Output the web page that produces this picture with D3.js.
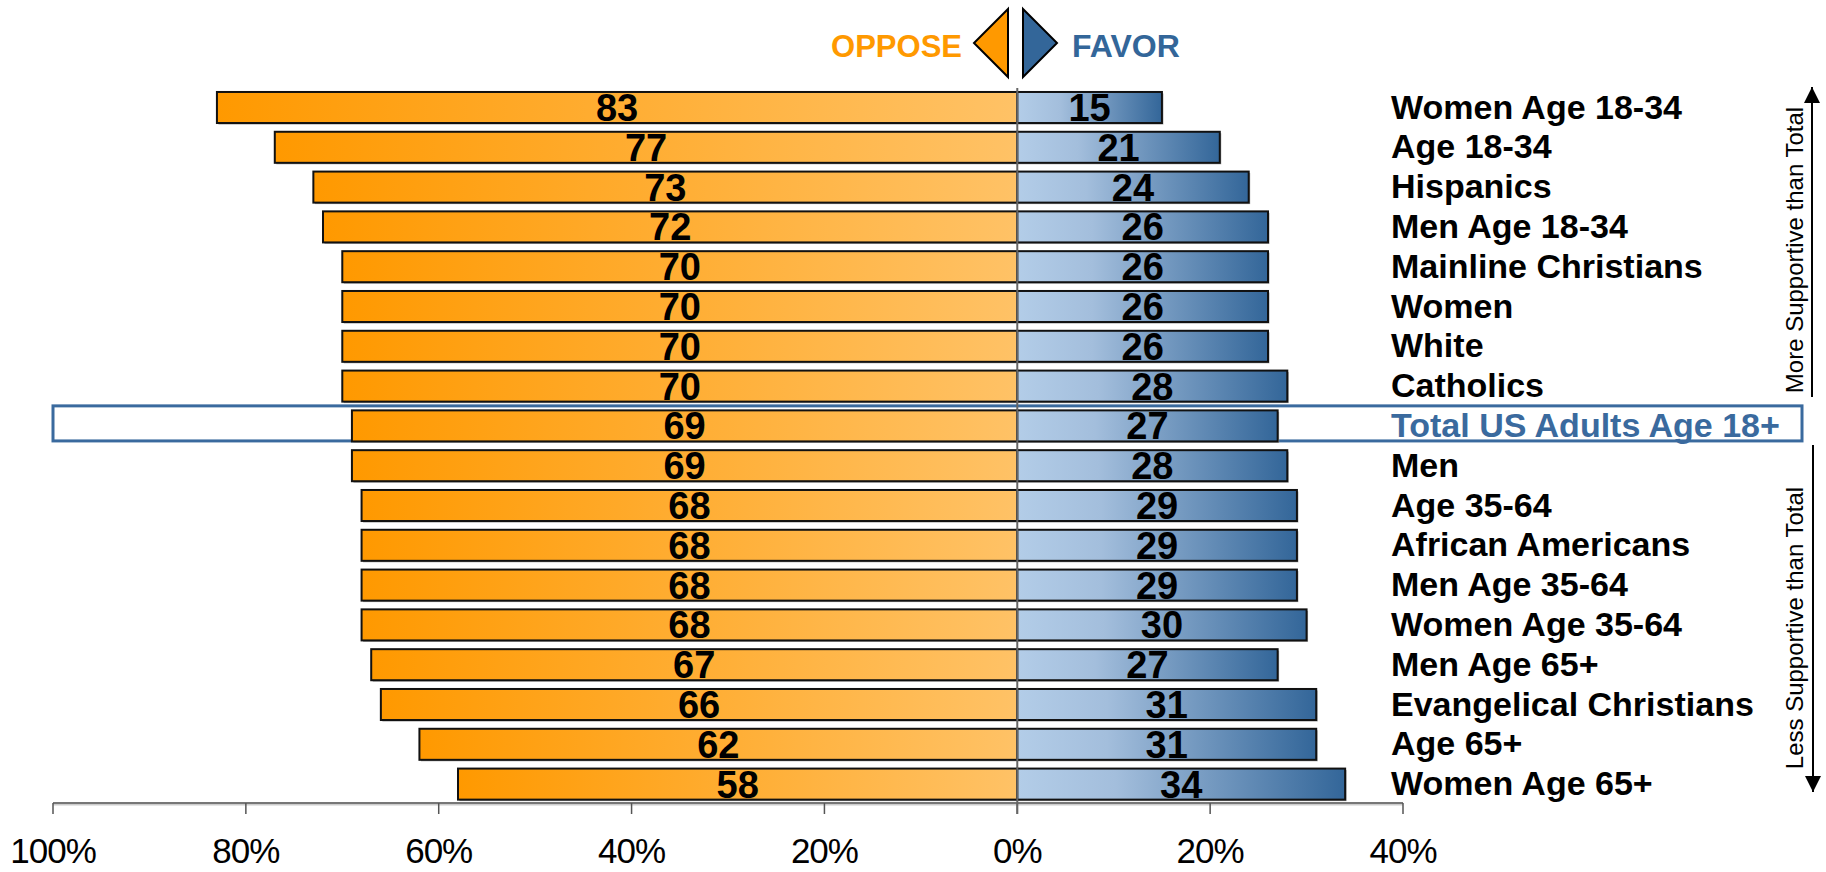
<!DOCTYPE html>
<html>
<head>
<meta charset="utf-8">
<script src="https://d3js.org/d3.v7.min.js"></script>
<style>
  body { margin: 0; background: #fff; }
  text { font-family: "Liberation Sans", Arial, sans-serif; }
</style>
</head>
<body>
<div id="chart"></div>
<script>
var categories = ['Women Age 18-34', 'Age 18-34', 'Hispanics', 'Men Age 18-34', 'Mainline Christians',
  'Women', 'White', 'Catholics', 'Total US Adults Age 18+', 'Men', 'Age 35-64', 'African Americans',
  'Men Age 35-64', 'Women Age 35-64', 'Men Age 65+', 'Evangelical Christians', 'Age 65+', 'Women Age 65+'];
var oppose = [83, 77, 73, 72, 70, 70, 70, 70, 69, 69, 68, 68, 68, 68, 67, 66, 62, 58];
var favor  = [15, 21, 24, 26, 26, 26, 26, 28, 27, 28, 29, 29, 29, 30, 27, 31, 31, 34];
var ticks  = [-100, -80, -60, -40, -20, 0, 20, 40];
var totalLabel = 'Total US Adults Age 18+';

var W = 1826, H = 872;
var svg = d3.select('#chart').append('svg').attr('width', W).attr('height', H);

var x = d3.scaleLinear().domain([-100, 40]).range([53, 1403]);
var y = d3.scaleBand().domain(categories).range([87.6, 804]).paddingInner(0.22).paddingOuter(0.11);

var rows = categories.map(function(c, i) { return {cat: c, oppose: oppose[i], favor: favor[i]}; });

// gradients (per bar)
var defs = svg.append('defs');
var gOpp = defs.append('linearGradient').attr('id', 'gradOppose');
gOpp.append('stop').attr('offset', '0%').attr('stop-color', '#ff9900');
gOpp.append('stop').attr('offset', '100%').attr('stop-color', '#ffc266');
var gFav = defs.append('linearGradient').attr('id', 'gradFavor');
gFav.append('stop').attr('offset', '0%').attr('stop-color', '#b3cde8');
gFav.append('stop').attr('offset', '30%').attr('stop-color', '#a3bedc');
gFav.append('stop').attr('offset', '100%').attr('stop-color', '#336699');

// highlight box for the total row
svg.append('rect')
  .attr('x', 53).attr('y', y(totalLabel) - 4.5)
  .attr('width', 1802 - 53).attr('height', y.bandwidth() + 4)
  .attr('fill', 'none').attr('stroke', '#3a6a9e').attr('stroke-width', 3);

// axis line + ticks
var axisY = 803;
svg.append('line').attr('x1', x(-100)).attr('x2', x(40)).attr('y1', axisY + 1.5).attr('y2', axisY + 1.5)
  .attr('stroke', '#ccc').attr('stroke-width', 2);
svg.append('line').attr('x1', x(-100)).attr('x2', x(40)).attr('y1', axisY).attr('y2', axisY)
  .attr('stroke', '#777').attr('stroke-width', 2);
svg.selectAll('.tick').data(ticks).enter().append('line')
  .attr('x1', function(d) { return x(d); }).attr('x2', function(d) { return x(d); })
  .attr('y1', axisY).attr('y2', axisY + 11)
  .attr('stroke', '#555').attr('stroke-width', 1.5);
svg.selectAll('.tickLabel').data(ticks).enter().append('text')
  .attr('x', function(d) { return x(d); }).attr('y', 863)
  .attr('text-anchor', 'middle')
  .attr('font-size', 35).attr('letter-spacing', -1).attr('fill', '#000')
  .text(function(d) { return Math.abs(d) + '%'; });

// bars
var bars = svg.append('g');
// shadows
bars.selectAll('.shO').data(rows).enter().append('rect')
  .attr('x', function(d) { return x(-d.oppose) + 1.5; })
  .attr('y', function(d) { return y(d.cat) + 1.5; })
  .attr('width', function(d) { return x(0) - x(-d.oppose); })
  .attr('height', y.bandwidth())
  .attr('fill', '#aaa');
bars.selectAll('.shF').data(rows).enter().append('rect')
  .attr('x', x(0) + 1.5)
  .attr('y', function(d) { return y(d.cat) + 1.5; })
  .attr('width', function(d) { return x(d.favor) - x(0); })
  .attr('height', y.bandwidth())
  .attr('fill', '#aaa');

bars.selectAll('.opp').data(rows).enter().append('rect')
  .attr('x', function(d) { return x(-d.oppose); })
  .attr('y', function(d) { return y(d.cat); })
  .attr('width', function(d) { return x(0) - x(-d.oppose); })
  .attr('height', y.bandwidth())
  .attr('fill', 'url(#gradOppose)')
  .attr('stroke', '#111').attr('stroke-width', 2);
bars.selectAll('.fav').data(rows).enter().append('rect')
  .attr('x', x(0))
  .attr('y', function(d) { return y(d.cat); })
  .attr('width', function(d) { return x(d.favor) - x(0); })
  .attr('height', y.bandwidth())
  .attr('fill', 'url(#gradFavor)')
  .attr('stroke', '#111').attr('stroke-width', 2);

// zero line
svg.append('line').attr('x1', x(0)).attr('x2', x(0)).attr('y1', 88).attr('y2', axisY + 11)
  .attr('stroke', '#666').attr('stroke-width', 2);

// value labels
svg.selectAll('.oppLab').data(rows).enter().append('text')
  .attr('x', function(d) { return (x(-d.oppose) + x(0)) / 2; })
  .attr('y', function(d) { return y(d.cat) + y.bandwidth() / 2 + 13.5; })
  .attr('text-anchor', 'middle').attr('font-size', 38).attr('font-weight', 'bold')
  .attr('fill', '#000')
  .text(function(d) { return d.oppose; });
svg.selectAll('.favLab').data(rows).enter().append('text')
  .attr('x', function(d) { return (x(d.favor) + x(0)) / 2; })
  .attr('y', function(d) { return y(d.cat) + y.bandwidth() / 2 + 13.5; })
  .attr('text-anchor', 'middle').attr('font-size', 38).attr('font-weight', 'bold')
  .attr('fill', '#000')
  .text(function(d) { return d.favor; });

// category labels
svg.selectAll('.catLab').data(rows).enter().append('text')
  .attr('x', 1391)
  .attr('y', function(d) { return y(d.cat) + y.bandwidth() / 2 + 11; })
  .attr('font-size', 34).attr('font-weight', 'bold')
  .attr('fill', function(d) { return d.cat === totalLabel ? '#3a6a9e' : '#000'; })
  .text(function(d) { return d.cat; });

// legend at top
svg.append('text').attr('x', 962).attr('y', 57).attr('text-anchor', 'end')
  .attr('font-size', 31).attr('font-weight', 'bold').attr('fill', '#ff9900').text('OPPOSE');
svg.append('path').attr('d', 'M1008,9 L974,43 L1008,77 Z')
  .attr('fill', '#ff9900').attr('stroke', '#000').attr('stroke-width', 2).attr('stroke-linejoin', 'miter');
svg.append('path').attr('d', 'M1023,9 L1057,43 L1023,77 Z')
  .attr('fill', '#336699').attr('stroke', '#000').attr('stroke-width', 2);
svg.append('text').attr('x', 1072).attr('y', 57)
  .attr('font-size', 32).attr('font-weight', 'bold').attr('fill', '#336699').text('FAVOR');

// side arrows
defs.append('marker').attr('id', 'arrowHead')
  .attr('viewBox', '0 0 10 10').attr('refX', 10).attr('refY', 5)
  .attr('markerWidth', 8).attr('markerHeight', 8).attr('markerUnits', 'strokeWidth')
  .attr('orient', 'auto')
  .append('path').attr('d', 'M0,0 L10,5 L0,10 Z').attr('fill', '#000');
svg.append('line').attr('x1', 1812).attr('x2', 1812).attr('y1', 397).attr('y2', 87)
  .attr('stroke', '#000').attr('stroke-width', 2).attr('marker-end', 'url(#arrowHead)');
svg.append('line').attr('x1', 1813).attr('x2', 1813).attr('y1', 445).attr('y2', 792)
  .attr('stroke', '#000').attr('stroke-width', 2).attr('marker-end', 'url(#arrowHead)');
svg.append('text').attr('transform', 'translate(1803,250) rotate(-90)')
  .attr('text-anchor', 'middle').attr('font-size', 24).attr('fill', '#000')
  .text('More Supportive than Total');
svg.append('text').attr('transform', 'translate(1803,628) rotate(-90)')
  .attr('text-anchor', 'middle').attr('font-size', 24).attr('fill', '#000')
  .text('Less Supportive than Total');
</script>
</body>
</html>
